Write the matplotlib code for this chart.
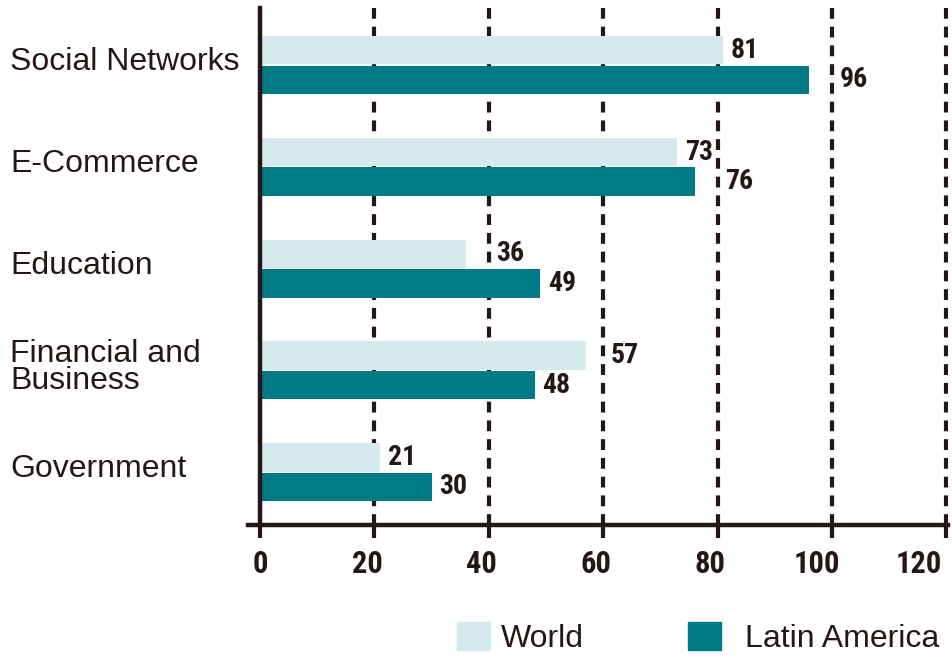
import numpy as np
import matplotlib
matplotlib.use("Agg")
import matplotlib.pyplot as plt
import matplotlib.transforms as mtransforms
from matplotlib.patches import Patch

# DATA
categories = ["Social Networks", "E-Commerce", "Education", "Financial and\nBusiness", "Government"]
world = [81, 73, 36, 57, 21]
latam = [96, 76, 49, 48, 30]
xticks = [0, 20, 40, 60, 80, 100, 120]

INK = "#231815"
LIGHT = "#d4eaee"
TEAL = "#007a87"
NARROW = ["Roboto Condensed", "DejaVu Sans"]

plt.rcParams["font.family"] = ["Liberation Sans", "DejaVu Sans"]

fig = plt.figure(figsize=(9.52, 6.61), dpi=100)
ax = fig.add_axes([248 / 952, 1 - 525 / 661, 700 / 952, 517 / 661])

y = np.arange(len(categories))
h = 0.28
ax.barh(y - 0.145, world, height=h, color=LIGHT, zorder=3)
ax.barh(y + 0.145, latam, height=h, color=TEAL, zorder=3)

# dashed gridlines
for g in xticks[1:]:
    ax.axvline(g, color=INK, lw=3, linestyle=(0, (2.6, 1.9)), zorder=1)

# value labels, pushed past a gridline when they'd collide
def label_x(v):
    g = np.ceil(v / 20) * 20
    if g - v <= 5:
        return g + 1.3
    return v + 1.3

for i in range(len(categories)):
    ax.text(label_x(world[i]), y[i] - 0.145, str(world[i]), va="center", ha="left",
            fontsize=20, fontweight="bold", family=NARROW, color=INK, zorder=4)
    ax.text(label_x(latam[i]), y[i] + 0.145, str(latam[i]), va="center", ha="left",
            fontsize=20, fontweight="bold", family=NARROW, color=INK, zorder=4)

ax.set_xlim(-2.1, 120.3)
ax.set_ylim(len(categories) - 0.48, -0.56)

# category labels at the left edge of the figure
trans = mtransforms.blended_transform_factory(fig.transFigure, ax.transData)
trans = trans + mtransforms.ScaledTranslation(0, 2 / 72, fig.dpi_scale_trans)
for i, c in enumerate(categories):
    ax.text(10 / 952, y[i], c, transform=trans, ha="left", va="center",
            fontsize=23, color=INK, linespacing=0.9)

ax.set_yticks([])
ax.set_xticks(xticks)
ax.set_xticklabels([str(t) for t in xticks], fontsize=22, fontweight="bold",
                   family=NARROW, color=INK)
ax.tick_params(axis="x", length=9, width=3, color=INK, pad=8)
labels = ax.get_xticklabels()
for k, lab in enumerate(labels):
    lab.set_ha("right")
    dx = 6 if k < len(labels) - 1 else -3
    lab.set_transform(lab.get_transform() +
                      mtransforms.ScaledTranslation(dx / 72, 0, fig.dpi_scale_trans))

for s in ["top", "right"]:
    ax.spines[s].set_visible(False)
ax.spines["left"].set_position(("data", 0))
for s in ["left", "bottom"]:
    ax.spines[s].set_linewidth(3.2)
    ax.spines[s].set_color(INK)
ax.spines["left"].set_zorder(5)

# legend, two entries placed separately
leg_kw = dict(frameon=False, fontsize=23, handlelength=1.03, handleheight=0.94,
              borderpad=0, borderaxespad=0, labelcolor=INK, loc="center left")
leg1 = fig.legend(handles=[Patch(color=LIGHT, label="World")],
                  bbox_to_anchor=(457 / 952, 1 - 638 / 661), handletextpad=0.35, **leg_kw)
leg2 = fig.legend(handles=[Patch(color=TEAL, label="Latin America")],
                  bbox_to_anchor=(688 / 952, 1 - 638 / 661), handletextpad=0.75, **leg_kw)

fig.savefig("out.png", dpi=100)
